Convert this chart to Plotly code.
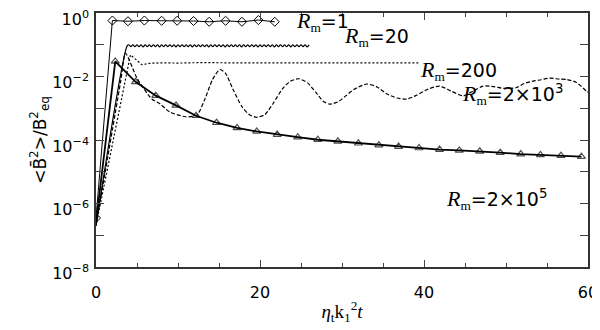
import plotly.graph_objects as go

# Rm = 1 (diamonds)
t_rm1 = [0.0, 2.0, 3.9, 5.9, 8.0, 9.9, 11.9, 13.8, 15.8, 17.8, 19.8, 21.8]
b_rm1 = [3.5e-7, 0.58, 0.55, 0.58, 0.57, 0.57, 0.56, 0.53, 0.57, 0.53, 0.60, 0.53]

# Rm = 20 (small saturated wiggles)
t_rm20 = [0.0, 3.8,
          4.0, 4.25, 4.5, 4.75, 5.0, 5.25, 5.5, 5.75, 6.0, 6.25, 6.5, 6.75,
          7.0, 7.25, 7.5, 7.75, 8.0, 8.25, 8.5, 8.75, 9.0, 9.25, 9.5, 9.75,
          10.0, 10.25, 10.5, 10.75, 11.0, 11.25, 11.5, 11.75, 12.0, 12.25,
          12.5, 12.75, 13.0, 13.25, 13.5, 13.75, 14.0, 14.25, 14.5, 14.75,
          15.0, 15.25, 15.5, 15.75, 16.0, 16.25, 16.5, 16.75, 17.0, 17.25,
          17.5, 17.75, 18.0, 18.25, 18.5, 18.75, 19.0, 19.25, 19.5, 19.75,
          20.0, 20.25, 20.5, 20.75, 21.0, 21.25, 21.5, 21.75, 22.0, 22.25,
          22.5, 22.75, 23.0, 23.25, 23.5, 23.75, 24.0, 24.25, 24.5, 24.75,
          25.0, 25.25, 25.5, 25.75, 26.0]
b_rm20 = [2.0e-7, 0.092,
          0.100, 0.087, 0.100, 0.087, 0.099, 0.087, 0.100, 0.086, 0.100, 0.087, 0.099, 0.087,
          0.100, 0.087, 0.100, 0.086, 0.099, 0.087, 0.100, 0.087, 0.100, 0.087, 0.099, 0.086,
          0.100, 0.087, 0.100, 0.087, 0.099, 0.087, 0.100, 0.086, 0.100, 0.087,
          0.099, 0.087, 0.100, 0.087, 0.100, 0.086, 0.099, 0.087, 0.100, 0.087,
          0.100, 0.087, 0.099, 0.086, 0.100, 0.087, 0.100, 0.087, 0.099, 0.087,
          0.100, 0.086, 0.100, 0.087, 0.099, 0.087, 0.100, 0.087, 0.100, 0.086,
          0.099, 0.087, 0.100, 0.087, 0.100, 0.087, 0.099, 0.086, 0.100, 0.087,
          0.100, 0.087, 0.099, 0.087, 0.100, 0.086, 0.100, 0.087, 0.099, 0.087,
          0.100, 0.087, 0.100, 0.086, 0.099]

# Rm = 200 (dotted)
t_rm200 = [0.0, 2.5, 4.2, 5.0, 5.6, 6.5, 8.0, 10.0, 13.0, 16.0, 19.0, 22.0, 25.0,
           28.0, 31.0, 34.0, 37.0, 39.3]
b_rm200 = [2.0e-7, 3.3e-4, 4.8e-2, 3.2e-2, 2.35e-2, 2.6e-2, 2.7e-2, 2.65e-2, 2.75e-2,
           2.7e-2, 2.7e-2, 2.65e-2, 2.7e-2, 2.75e-2, 2.7e-2, 2.7e-2, 2.65e-2, 2.7e-2]

# Rm = 2e3 (dashed, oscillating)
t_rm2e3 = [0.0, 3.0, 3.6, 5.0, 6.8, 7.8, 9.0, 10.9, 12.3, 13.3, 14.2, 15.1, 15.8,
           16.7, 17.8, 18.7, 19.6, 20.6, 21.6, 22.7, 23.7, 24.7, 25.8, 26.8, 27.7,
           28.5, 29.5, 30.5, 31.5, 33.0, 34.2, 35.5, 36.7, 37.9, 39.0, 40.5, 41.9,
           43.3, 44.8, 46.0, 47.2, 48.5, 49.8, 51.3, 52.2, 53.3, 54.3, 55.3, 56.5,
           57.4, 58.6, 59.8, 60.0]
b_rm2e3 = [2.0e-7, 6.8e-3, 5.4e-2, 8.9e-3, 1.95e-3, 1.38e-3, 7.6e-4, 5.4e-4, 6.0e-4,
           2.0e-3, 7.9e-3, 1.66e-2, 1.26e-2, 4.0e-3, 1.12e-3, 6.3e-4, 5.2e-4, 6.3e-4,
           1.41e-3, 4.0e-3, 7.1e-3, 8.5e-3, 6.3e-3, 3.2e-3, 1.66e-3, 1.35e-3, 1.58e-3,
           2.5e-3, 4.0e-3, 5.8e-3, 4.8e-3, 2.8e-3, 2.1e-3, 1.95e-3, 2.5e-3, 4.0e-3,
           5.0e-3, 3.5e-3, 2.45e-3, 3.5e-3, 5.0e-3, 4.8e-3, 4.2e-3, 4.5e-3, 6.0e-3,
           7.2e-3, 7.9e-3, 8.9e-3, 8.3e-3, 8.1e-3, 6.5e-3, 3.5e-3, 3.2e-3]

# Rm = 2e5 (triangles)
t_rm2e5 = [0.0, 2.35, 4.82, 7.29, 9.76, 12.2, 14.7, 17.2, 19.6, 22.1, 24.6, 27.05,
           29.5, 32.0, 34.5, 36.9, 39.4, 41.9, 44.3, 46.8, 49.3, 51.8, 54.2, 56.7, 59.2]
b_rm2e5 = [2.5e-7, 3.0e-2, 6.8e-3, 2.5e-3, 1.23e-3, 5.8e-4, 3.5e-4, 2.4e-4, 1.86e-4,
           1.48e-4, 1.23e-4, 1.02e-4, 9.1e-5, 7.9e-5, 6.9e-5, 6.2e-5, 5.6e-5, 5.0e-5,
           4.7e-5, 4.4e-5, 4.0e-5, 3.6e-5, 3.4e-5, 3.2e-5, 3.0e-5]

# curve labels: value text, t position, log10 position
RM = ("<span style='font-family:Liberation Serif;font-size:22px'><i>R</i></span>"
      "<sub><span style='font-family:Liberation Serif'>m</span></sub>")
labels = [
    (RM + "=1", 24.3, -0.26),
    (RM + "=20", 30.1, -0.74),
    (RM + "=200", 39.4, -1.80),
    (RM + "=2×10<sup>3</sup>", 44.5, -2.58),
    (RM + "=2×10<sup>5</sup>", 42.6, -5.88),
]

y_tickvals = [1e-8, 1e-7, 1e-6, 1e-5, 1e-4, 1e-3, 1e-2, 1e-1, 1]
y_ticktext = ["10<sup>−8</sup>", "", "10<sup>−6</sup>", "", "10<sup>−4</sup>", "",
              "10<sup>−2</sup>", "", "10<sup>0</sup>"]

fig = go.Figure()

fig.add_trace(go.Scatter(
    x=t_rm1, y=b_rm1, mode="lines+markers",
    line=dict(color="black", width=1),
    marker=dict(symbol="diamond-open", size=7, color="black", line=dict(width=1)),
))
fig.add_trace(go.Scatter(
    x=t_rm20, y=b_rm20, mode="lines",
    line=dict(color="black", width=1.2, shape="spline", smoothing=0.8),
))
fig.add_trace(go.Scatter(
    x=t_rm200, y=b_rm200, mode="lines",
    line=dict(color="black", width=1.2, dash="2px,2px"),
))
fig.add_trace(go.Scatter(
    x=t_rm2e3, y=b_rm2e3, mode="lines",
    line=dict(color="black", width=1.2, dash="4px,2px", shape="spline", smoothing=0.6),
))
fig.add_trace(go.Scatter(
    x=t_rm2e5, y=b_rm2e5, mode="lines+markers",
    line=dict(color="black", width=1.8),
    marker=dict(symbol="triangle-up-open", size=[0] + [7] * (len(t_rm2e5) - 1),
                color="black", line=dict(width=1.2)),
))

for text, tx, ly in labels:
    fig.add_annotation(
        x=tx, y=ly, text=text, showarrow=False, xanchor="left", yanchor="middle",
        font=dict(family="DejaVu Sans", size=19, color="black"), borderpad=0,
    )

# page body has an 8px margin, so the figure is sized to fit the 600x330 window
fig.update_layout(
    width=592, height=322,
    margin=dict(l=88, r=12, t=0, b=63),
    paper_bgcolor="white", plot_bgcolor="white",
    showlegend=False,
    font=dict(family="DejaVu Sans", size=16, color="black"),
)
fig.update_xaxes(
    range=[0, 60], tickvals=[0, 20, 40, 60], ticks="inside", ticklen=7,
    minor=dict(dtick=5, ticks="inside", ticklen=4),
    showline=True, linecolor="#333", linewidth=1.5, mirror="ticks",
    showgrid=False, zeroline=False,
    tickfont=dict(size=16), ticklabelstandoff=10, ticklabeloverflow="allow",
    title=dict(text="<i>η</i><sub>t</sub>k<sub>1</sub><sup>2</sup><i>t</i>",
               font=dict(family="Liberation Serif", size=19), standoff=4),
)
fig.update_yaxes(
    type="log", range=[-8, 0.0005], tickvals=y_tickvals, ticktext=y_ticktext,
    ticks="inside", ticklen=8,
    showline=True, linecolor="#333", linewidth=1.5, mirror="ticks",
    showgrid=False, zeroline=False,
    tickfont=dict(size=16), ticklabelshift=6, ticklabelstandoff=2,
    ticklabeloverflow="allow",
    title=dict(text="&lt;B̄<sup>2</sup>&gt;/B<sup>2</sup><sub>eq</sub>",
               font=dict(size=17), standoff=0),
)

fig.write_html("out.html")
